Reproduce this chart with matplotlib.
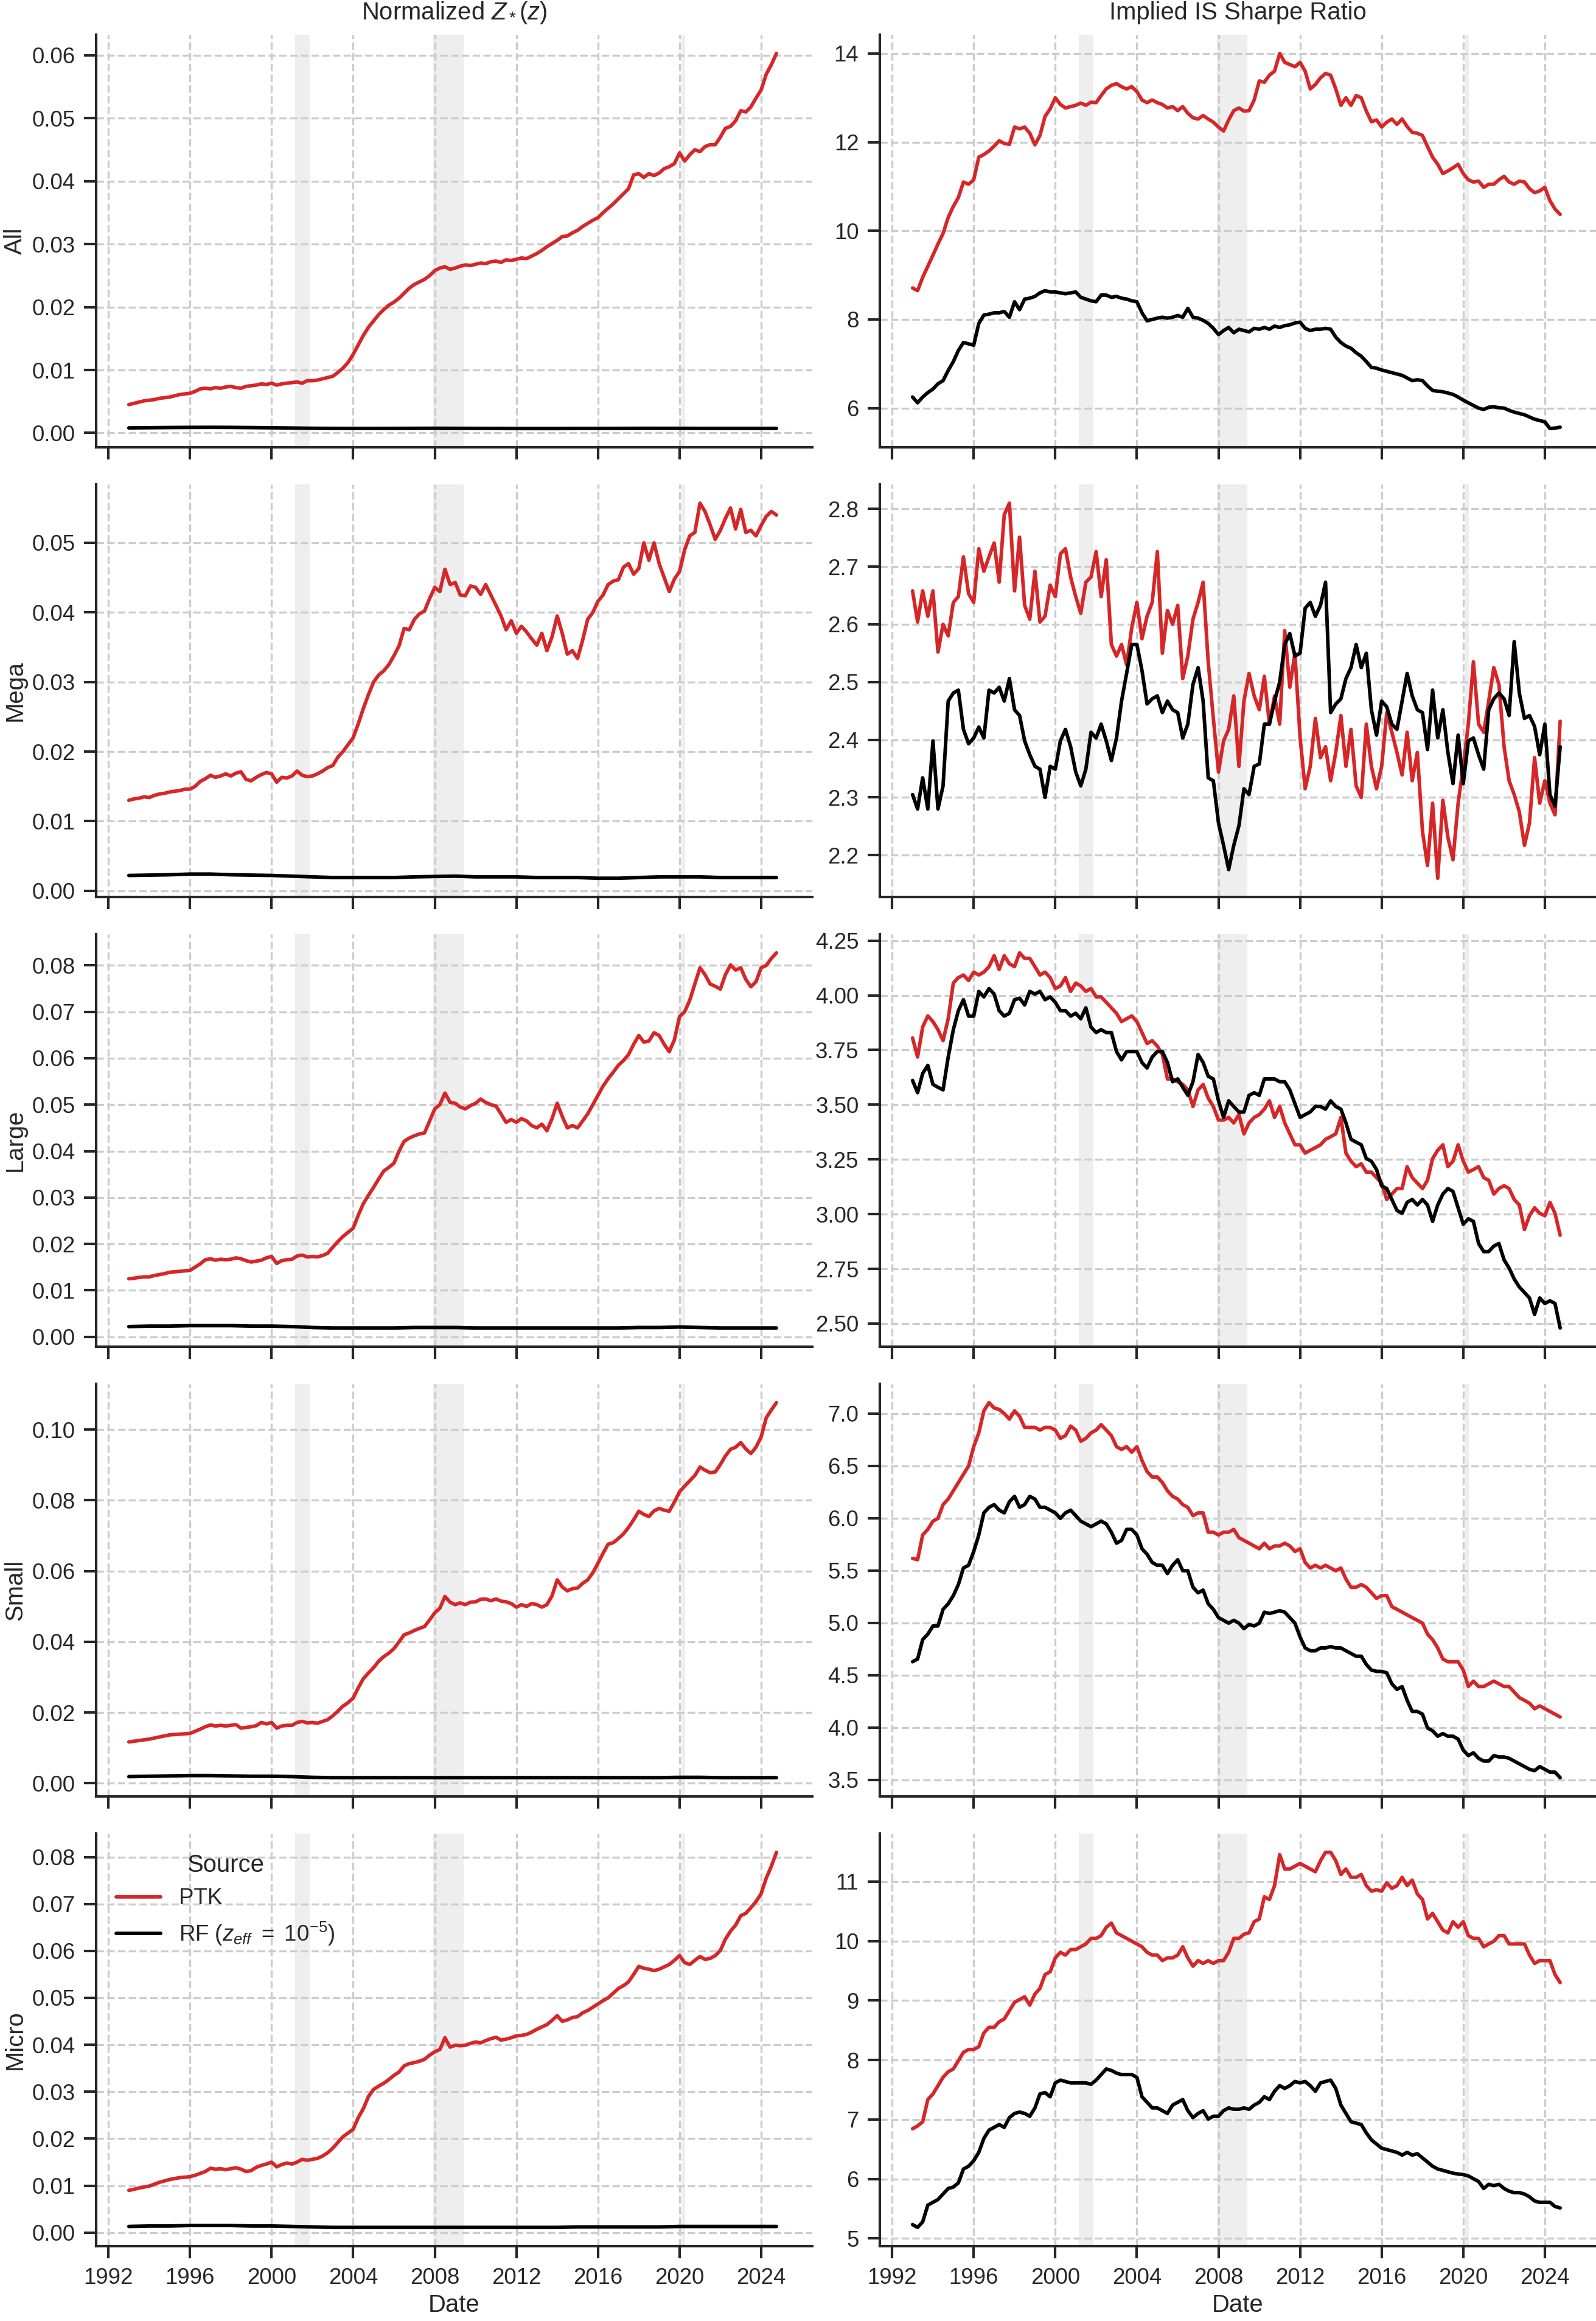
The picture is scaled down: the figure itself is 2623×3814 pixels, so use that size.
import matplotlib
matplotlib.use("Agg")
import matplotlib.pyplot as plt
import matplotlib.dates as mdates
from matplotlib.ticker import MultipleLocator
import seaborn as sns
import pandas as pd
from datetime import datetime

# quarterly sample dates (Jan, Apr, Jul, Oct), 1993 - 2024
dates_q = pd.date_range("1993-01-01", periods=128, freq="QS")
# yearly sample for the flat RF curves in the left column (+ last quarter)
rf_dates = list(dates_q[::4]) + [dates_q[-1]]

segments = ["All", "Mega", "Large", "Small", "Micro"]
col_titles = ["Normalized $Z_*(z)$", "Implied IS Sharpe Ratio"]
recessions = [("2001-03-01", "2001-11-15"), ("2007-12-01", "2009-06-01"), ("2020-02-01", "2020-04-15")]

# ---- Normalized Z*(z), PTK (quarterly) ----
z_ptk_all = [
    0.0045, 0.0047, 0.0049, 0.0051, 0.0052, 0.0053, 0.0055, 0.0056,
    0.0057, 0.0059, 0.0061, 0.0062, 0.0063, 0.0066, 0.0070, 0.0071,
    0.0070, 0.0072, 0.0071, 0.0073, 0.0074, 0.0072, 0.0071, 0.0074,
    0.0075, 0.0076, 0.0078, 0.0077, 0.0079, 0.0076, 0.0078, 0.0079,
    0.0080, 0.0081, 0.0079, 0.0083, 0.0083, 0.0084, 0.0086, 0.0088,
    0.0090, 0.0096, 0.0103, 0.0112, 0.0125, 0.0140, 0.0155, 0.0168,
    0.0178, 0.0188, 0.0196, 0.0203, 0.0208, 0.0214, 0.0222, 0.0230,
    0.0236, 0.0240, 0.0244, 0.0250, 0.0258, 0.0262, 0.0264, 0.0260,
    0.0262, 0.0265, 0.0267, 0.0266, 0.0268, 0.0270, 0.0269, 0.0272,
    0.0273, 0.0271, 0.0275, 0.0274, 0.0276, 0.0278, 0.0277, 0.0281,
    0.0285, 0.0290, 0.0296, 0.0301, 0.0306, 0.0312, 0.0313, 0.0318,
    0.0322, 0.0328, 0.0333, 0.0338, 0.0342, 0.0350, 0.0357, 0.0364,
    0.0372, 0.0380, 0.0388, 0.0410, 0.0412, 0.0406, 0.0412, 0.0409,
    0.0413, 0.0420, 0.0423, 0.0428, 0.0445, 0.0432, 0.0442, 0.0450,
    0.0447, 0.0455, 0.0458, 0.0458, 0.0470, 0.0484, 0.0487, 0.0496,
    0.0512, 0.0510, 0.0518, 0.0532, 0.0545, 0.0570, 0.0585, 0.0603,
]
z_ptk_mega = [
    0.0130, 0.0132, 0.0133, 0.0135, 0.0134, 0.0137, 0.0139, 0.0140,
    0.0142, 0.0143, 0.0144, 0.0146, 0.0146, 0.0150, 0.0157, 0.0161,
    0.0166, 0.0163, 0.0165, 0.0168, 0.0165, 0.0169, 0.0171, 0.0160,
    0.0158, 0.0163, 0.0167, 0.0170, 0.0168, 0.0156, 0.0163, 0.0162,
    0.0165, 0.0172, 0.0166, 0.0164, 0.0165, 0.0168, 0.0172, 0.0177,
    0.0180, 0.0192, 0.0200, 0.0210, 0.0220, 0.0240, 0.0262, 0.0282,
    0.0300, 0.0310, 0.0316, 0.0325, 0.0338, 0.0352, 0.0377, 0.0375,
    0.0390, 0.0398, 0.0402, 0.0420, 0.0436, 0.0430, 0.0462, 0.0440,
    0.0443, 0.0425, 0.0424, 0.0438, 0.0436, 0.0426, 0.0440, 0.0425,
    0.0410, 0.0395, 0.0375, 0.0388, 0.0370, 0.0380, 0.0372, 0.0362,
    0.0353, 0.0370, 0.0345, 0.0365, 0.0395, 0.0370, 0.0340, 0.0345,
    0.0334, 0.0360, 0.0390, 0.0400, 0.0416, 0.0425, 0.0440, 0.0445,
    0.0447, 0.0465, 0.0470, 0.0455, 0.0463, 0.0500, 0.0475, 0.0500,
    0.0470, 0.0450, 0.0430, 0.0448, 0.0459, 0.0490, 0.0510, 0.0515,
    0.0557, 0.0545, 0.0526, 0.0505, 0.0518, 0.0535, 0.0550, 0.0520,
    0.0548, 0.0515, 0.0518, 0.0510, 0.0525, 0.0538, 0.0545, 0.0540,
]
z_ptk_large = [
    0.0125, 0.0126, 0.0128, 0.0129, 0.0129, 0.0132, 0.0134, 0.0136,
    0.0139, 0.0140, 0.0141, 0.0142, 0.0143, 0.0150, 0.0157, 0.0166,
    0.0168, 0.0165, 0.0167, 0.0166, 0.0167, 0.0170, 0.0168, 0.0164,
    0.0161, 0.0163, 0.0165, 0.0170, 0.0173, 0.0158, 0.0164, 0.0166,
    0.0167, 0.0174, 0.0176, 0.0172, 0.0173, 0.0172, 0.0175, 0.0180,
    0.0193, 0.0205, 0.0216, 0.0225, 0.0234, 0.0262, 0.0287, 0.0305,
    0.0322, 0.0340, 0.0357, 0.0365, 0.0374, 0.0400, 0.0421, 0.0428,
    0.0433, 0.0437, 0.0439, 0.0465, 0.0491, 0.0500, 0.0525, 0.0505,
    0.0503, 0.0495, 0.0491, 0.0498, 0.0503, 0.0512, 0.0505, 0.0500,
    0.0497, 0.0480, 0.0462, 0.0468, 0.0462, 0.0470, 0.0465, 0.0455,
    0.0450, 0.0458, 0.0444, 0.0470, 0.0503, 0.0475, 0.0450, 0.0455,
    0.0450, 0.0465, 0.0480, 0.0500, 0.0520, 0.0540, 0.0556, 0.0570,
    0.0585, 0.0595, 0.0608, 0.0630, 0.0649, 0.0635, 0.0637, 0.0655,
    0.0649, 0.0630, 0.0614, 0.0640, 0.0690, 0.0700, 0.0725, 0.0760,
    0.0795, 0.0780, 0.0760, 0.0755, 0.0749, 0.0780, 0.0801, 0.0790,
    0.0795, 0.0770, 0.0754, 0.0765, 0.0795, 0.0800, 0.0815, 0.0827,
]
z_ptk_small = [
    0.0117, 0.0119, 0.0121, 0.0123, 0.0125, 0.0128, 0.0131, 0.0134,
    0.0137, 0.0138, 0.0139, 0.0140, 0.0141, 0.0147, 0.0153, 0.0160,
    0.0165, 0.0162, 0.0164, 0.0162, 0.0164, 0.0166, 0.0156, 0.0158,
    0.0160, 0.0163, 0.0172, 0.0168, 0.0172, 0.0156, 0.0162, 0.0164,
    0.0164, 0.0172, 0.0175, 0.0171, 0.0172, 0.0170, 0.0175, 0.0180,
    0.0191, 0.0204, 0.0218, 0.0228, 0.0241, 0.0270, 0.0296, 0.0312,
    0.0327, 0.0345, 0.0358, 0.0368, 0.0381, 0.0400, 0.0420, 0.0425,
    0.0432, 0.0438, 0.0443, 0.0462, 0.0482, 0.0495, 0.0528, 0.0512,
    0.0505, 0.0510, 0.0505, 0.0512, 0.0513, 0.0520, 0.0521, 0.0516,
    0.0521, 0.0515, 0.0513, 0.0508, 0.0498, 0.0505, 0.0500, 0.0508,
    0.0505, 0.0498, 0.0505, 0.0530, 0.0575, 0.0555, 0.0544, 0.0550,
    0.0552, 0.0565, 0.0575, 0.0595, 0.0622, 0.0650, 0.0676, 0.0680,
    0.0692, 0.0705, 0.0723, 0.0745, 0.0769, 0.0760, 0.0754, 0.0770,
    0.0777, 0.0772, 0.0769, 0.0795, 0.0824, 0.0840, 0.0855, 0.0870,
    0.0894, 0.0885, 0.0878, 0.0880, 0.0901, 0.0925, 0.0944, 0.0950,
    0.0963, 0.0945, 0.0932, 0.0950, 0.0979, 0.1033, 0.1055, 0.1076,
]
z_ptk_micro = [
    0.0090, 0.0092, 0.0095, 0.0097, 0.0099, 0.0103, 0.0107, 0.0110,
    0.0113, 0.0115, 0.0117, 0.0118, 0.0119, 0.0122, 0.0126, 0.0130,
    0.0137, 0.0135, 0.0136, 0.0134, 0.0136, 0.0138, 0.0135, 0.0130,
    0.0132, 0.0139, 0.0143, 0.0146, 0.0150, 0.0140, 0.0145, 0.0148,
    0.0146, 0.0150, 0.0156, 0.0154, 0.0156, 0.0158, 0.0163, 0.0170,
    0.0180, 0.0192, 0.0204, 0.0212, 0.0220, 0.0245, 0.0264, 0.0290,
    0.0305, 0.0312, 0.0318, 0.0326, 0.0335, 0.0342, 0.0355, 0.0360,
    0.0362, 0.0365, 0.0369, 0.0378, 0.0385, 0.0390, 0.0415, 0.0395,
    0.0399, 0.0398, 0.0399, 0.0403, 0.0406, 0.0404, 0.0409, 0.0413,
    0.0416, 0.0410, 0.0412, 0.0415, 0.0419, 0.0420, 0.0422, 0.0427,
    0.0433, 0.0438, 0.0443, 0.0452, 0.0462, 0.0450, 0.0453, 0.0458,
    0.0460, 0.0468, 0.0473, 0.0480, 0.0487, 0.0494, 0.0500, 0.0510,
    0.0520, 0.0526, 0.0534, 0.0550, 0.0567, 0.0563, 0.0561, 0.0558,
    0.0561, 0.0566, 0.0571, 0.0580, 0.0590, 0.0575, 0.0571, 0.0580,
    0.0588, 0.0582, 0.0584, 0.0590, 0.0601, 0.0625, 0.0642, 0.0655,
    0.0675, 0.0680, 0.0692, 0.0705, 0.0722, 0.0755, 0.0780, 0.0810,
]

# ---- Normalized Z*(z), RF (yearly) ----
z_rf_all = [0.00080, 0.00083, 0.00086, 0.00088, 0.00089, 0.00088, 0.00085, 0.00082,
            0.00078, 0.00074, 0.00072, 0.00071, 0.00071, 0.00072, 0.00073, 0.00074,
            0.00073, 0.00072, 0.00071, 0.00070, 0.00070, 0.00070, 0.00071, 0.00071,
            0.00072, 0.00073, 0.00073, 0.00073, 0.00072, 0.00072, 0.00072, 0.00072, 0.00072]
z_rf_mega = [0.0022, 0.00225, 0.0023, 0.0024, 0.0024, 0.0023, 0.00225, 0.0022,
             0.0021, 0.0020, 0.0019, 0.0019, 0.0019, 0.0019, 0.0020, 0.00205,
             0.0021, 0.0020, 0.0020, 0.0020, 0.0019, 0.0019, 0.0019, 0.0018,
             0.0018, 0.0019, 0.0020, 0.0020, 0.0020, 0.0019, 0.0019, 0.0019, 0.0019]
z_rf_large = [0.0022, 0.0023, 0.0023, 0.0024, 0.0024, 0.0024, 0.0023, 0.0023,
              0.0022, 0.0020, 0.0019, 0.0019, 0.0019, 0.0019, 0.0020, 0.0020,
              0.0020, 0.0019, 0.0019, 0.0019, 0.0019, 0.0019, 0.0019, 0.0019,
              0.0019, 0.0020, 0.0020, 0.0021, 0.0020, 0.0019, 0.0019, 0.0019, 0.0019]
z_rf_small = [0.0019, 0.0020, 0.0021, 0.0022, 0.0022, 0.0021, 0.0020, 0.0020,
              0.0019, 0.0017, 0.0016, 0.0016, 0.0016, 0.0016, 0.0016, 0.0016,
              0.0016, 0.0016, 0.0016, 0.0016, 0.0016, 0.0016, 0.0016, 0.0016,
              0.0016, 0.0016, 0.0016, 0.0017, 0.0017, 0.0016, 0.0016, 0.0016, 0.0016]
z_rf_micro = [0.0013, 0.0014, 0.0014, 0.0015, 0.0015, 0.0015, 0.0014, 0.0014,
              0.0013, 0.0012, 0.0011, 0.0011, 0.0011, 0.0011, 0.0011, 0.0011,
              0.0011, 0.0011, 0.0011, 0.0011, 0.0011, 0.0011, 0.0012, 0.0012,
              0.0012, 0.0012, 0.0012, 0.0013, 0.0013, 0.0013, 0.0013, 0.0013, 0.0013]

# ---- Implied IS Sharpe ratio, PTK (quarterly) ----
sr_ptk_all = [
    8.71, 8.65, 8.95, 9.20, 9.45, 9.70, 9.94, 10.30,
    10.55, 10.75, 11.10, 11.05, 11.15, 11.66, 11.72, 11.80,
    11.91, 12.03, 11.97, 11.95, 12.34, 12.30, 12.34, 12.20,
    11.94, 12.15, 12.58, 12.75, 13.00, 12.85, 12.77, 12.80,
    12.83, 12.88, 12.83, 12.90, 12.89, 13.05, 13.20, 13.28,
    13.32, 13.25, 13.20, 13.25, 13.14, 12.95, 12.89, 12.95,
    12.89, 12.85, 12.77, 12.80, 12.71, 12.80, 12.65, 12.55,
    12.52, 12.60, 12.52, 12.45, 12.34, 12.25, 12.50, 12.71,
    12.77, 12.70, 12.71, 12.95, 13.38, 13.35, 13.51, 13.60,
    14.00, 13.80, 13.75, 13.70, 13.80, 13.60, 13.20, 13.30,
    13.45, 13.55, 13.51, 13.20, 12.83, 13.00, 12.83, 13.05,
    13.00, 12.70, 12.46, 12.50, 12.34, 12.45, 12.52, 12.40,
    12.52, 12.35, 12.22, 12.20, 12.15, 11.90, 11.66, 11.50,
    11.29, 11.35, 11.42, 11.50, 11.29, 11.15, 11.10, 11.12,
    10.98, 11.05, 11.05, 11.15, 11.23, 11.10, 11.05, 11.12,
    11.10, 10.95, 10.86, 10.90, 10.98, 10.68, 10.49, 10.37,
]
sr_ptk_mega = [
    2.658, 2.604, 2.658, 2.614, 2.658, 2.552, 2.600, 2.580,
    2.638, 2.648, 2.717, 2.653, 2.638, 2.731, 2.692, 2.717,
    2.741, 2.673, 2.790, 2.810, 2.658, 2.751, 2.633, 2.609,
    2.692, 2.604, 2.614, 2.668, 2.648, 2.722, 2.731, 2.682,
    2.648, 2.619, 2.673, 2.682, 2.726, 2.648, 2.712, 2.565,
    2.545, 2.565, 2.530, 2.594, 2.638, 2.575, 2.614, 2.638,
    2.726, 2.550, 2.624, 2.600, 2.633, 2.506, 2.545, 2.609,
    2.638, 2.673, 2.535, 2.437, 2.344, 2.398, 2.418, 2.476,
    2.354, 2.467, 2.515, 2.476, 2.452, 2.510, 2.427, 2.476,
    2.427, 2.589, 2.491, 2.550, 2.404, 2.315, 2.354, 2.437,
    2.369, 2.388, 2.329, 2.378, 2.442, 2.354, 2.418, 2.320,
    2.300, 2.427, 2.354, 2.315, 2.354, 2.447, 2.413, 2.378,
    2.339, 2.413, 2.329, 2.378, 2.241, 2.182, 2.290, 2.160,
    2.295, 2.231, 2.192, 2.290, 2.354, 2.427, 2.535, 2.427,
    2.413, 2.467, 2.525, 2.496, 2.388, 2.329, 2.305, 2.275,
    2.217, 2.256, 2.369, 2.290, 2.329, 2.290, 2.270, 2.432,
]
sr_ptk_large = [
    3.805, 3.718, 3.855, 3.906, 3.880, 3.843, 3.793, 3.893,
    4.056, 4.081, 4.093, 4.068, 4.106, 4.093, 4.106, 4.131,
    4.181, 4.118, 4.181, 4.144, 4.131, 4.194, 4.169, 4.169,
    4.131, 4.093, 4.106, 4.081, 4.031, 4.043, 4.081, 4.018,
    4.056, 4.043, 4.018, 4.031, 3.993, 3.993, 3.968, 3.943,
    3.918, 3.880, 3.893, 3.906, 3.880, 3.830, 3.780, 3.793,
    3.768, 3.730, 3.618, 3.618, 3.605, 3.593, 3.568, 3.492,
    3.568, 3.593, 3.530, 3.492, 3.430, 3.430, 3.442, 3.417,
    3.455, 3.367, 3.417, 3.442, 3.455, 3.480, 3.518, 3.442,
    3.492, 3.417, 3.367, 3.317, 3.317, 3.279, 3.292, 3.304,
    3.317, 3.342, 3.354, 3.367, 3.442, 3.279, 3.242, 3.217,
    3.230, 3.192, 3.192, 3.167, 3.142, 3.067, 3.092, 3.117,
    3.117, 3.217, 3.167, 3.142, 3.117, 3.155, 3.254, 3.292,
    3.317, 3.217, 3.242, 3.317, 3.242, 3.192, 3.204, 3.217,
    3.167, 3.155, 3.092, 3.117, 3.130, 3.117, 3.067, 3.042,
    2.930, 2.993, 3.029, 3.004, 2.993, 3.054, 3.004, 2.904,
]
sr_ptk_small = [
    5.616, 5.603, 5.840, 5.893, 5.972, 5.998, 6.130, 6.183,
    6.262, 6.341, 6.420, 6.499, 6.684, 6.816, 7.026, 7.105,
    7.053, 7.040, 7.000, 6.947, 7.026, 6.974, 6.868, 6.868,
    6.868, 6.842, 6.868, 6.868, 6.842, 6.763, 6.789, 6.881,
    6.842, 6.736, 6.763, 6.816, 6.842, 6.895, 6.842, 6.789,
    6.684, 6.657, 6.684, 6.631, 6.684, 6.552, 6.446, 6.394,
    6.394, 6.341, 6.262, 6.209, 6.183, 6.130, 6.104, 6.025,
    6.051, 6.051, 5.866, 5.866, 5.840, 5.866, 5.866, 5.893,
    5.814, 5.788, 5.761, 5.735, 5.708, 5.761, 5.708, 5.735,
    5.735, 5.761, 5.735, 5.682, 5.708, 5.577, 5.524, 5.550,
    5.524, 5.550, 5.524, 5.498, 5.524, 5.419, 5.340, 5.340,
    5.366, 5.340, 5.287, 5.234, 5.260, 5.260, 5.155, 5.129,
    5.102, 5.076, 5.050, 5.024, 4.997, 4.892, 4.839, 4.760,
    4.654, 4.628, 4.628, 4.628, 4.549, 4.391, 4.443, 4.391,
    4.391, 4.417, 4.443, 4.417, 4.391, 4.391, 4.338, 4.285,
    4.259, 4.232, 4.179, 4.206, 4.179, 4.153, 4.127, 4.100,
]
sr_ptk_micro = [
    6.845, 6.892, 6.962, 7.335, 7.429, 7.569, 7.709, 7.802,
    7.849, 7.989, 8.129, 8.176, 8.176, 8.222, 8.456, 8.549,
    8.549, 8.642, 8.689, 8.829, 8.969, 9.016, 9.063, 8.922,
    9.109, 9.203, 9.436, 9.483, 9.716, 9.810, 9.763, 9.856,
    9.856, 9.903, 9.950, 10.043, 10.043, 10.090, 10.230, 10.300,
    10.136, 10.090, 10.043, 9.996, 9.950, 9.903, 9.810, 9.763,
    9.763, 9.670, 9.716, 9.716, 9.763, 9.903, 9.716, 9.576,
    9.670, 9.623, 9.670, 9.623, 9.670, 9.670, 9.810, 10.043,
    10.043, 10.114, 10.137, 10.323, 10.370, 10.743, 10.697, 10.930,
    11.450, 11.210, 11.210, 11.257, 11.303, 11.257, 11.210, 11.163,
    11.350, 11.490, 11.490, 11.350, 11.117, 11.210, 11.070, 11.070,
    11.117, 10.930, 10.837, 10.860, 10.837, 10.977, 10.883, 10.930,
    11.070, 10.930, 11.023, 10.790, 10.697, 10.370, 10.463, 10.323,
    10.183, 10.136, 10.323, 10.230, 10.323, 10.090, 10.043, 10.043,
    9.903, 9.950, 9.996, 10.090, 10.090, 9.950, 9.950, 9.950,
    9.950, 9.763, 9.623, 9.670, 9.670, 9.670, 9.436, 9.300,
]

# ---- Implied IS Sharpe ratio, RF (quarterly) ----
sr_rf_all = [
    6.25, 6.12, 6.25, 6.35, 6.43, 6.55, 6.62, 6.85,
    7.05, 7.30, 7.48, 7.45, 7.42, 7.91, 8.10, 8.12,
    8.15, 8.15, 8.18, 8.05, 8.40, 8.22, 8.46, 8.48,
    8.52, 8.60, 8.65, 8.62, 8.62, 8.60, 8.58, 8.60,
    8.62, 8.50, 8.46, 8.42, 8.40, 8.55, 8.55, 8.50,
    8.52, 8.48, 8.46, 8.42, 8.40, 8.15, 7.97, 8.00,
    8.03, 8.05, 8.03, 8.05, 8.09, 8.05, 8.25, 8.05,
    8.03, 7.98, 7.91, 7.80, 7.66, 7.75, 7.82, 7.70,
    7.78, 7.75, 7.72, 7.80, 7.78, 7.82, 7.78, 7.85,
    7.82, 7.86, 7.88, 7.92, 7.94, 7.80, 7.75, 7.78,
    7.78, 7.80, 7.78, 7.60, 7.48, 7.40, 7.35, 7.25,
    7.17, 7.05, 6.92, 6.90, 6.86, 6.83, 6.80, 6.77,
    6.74, 6.68, 6.62, 6.64, 6.62, 6.50, 6.40, 6.38,
    6.37, 6.34, 6.31, 6.25, 6.18, 6.12, 6.06, 6.00,
    5.97, 6.02, 6.03, 6.01, 6.00, 5.95, 5.91, 5.88,
    5.85, 5.80, 5.75, 5.72, 5.69, 5.54, 5.55, 5.57,
]
sr_rf_mega = [
    2.305, 2.280, 2.334, 2.280, 2.398, 2.280, 2.320, 2.467,
    2.481, 2.486, 2.418, 2.393, 2.403, 2.422, 2.403, 2.486,
    2.481, 2.491, 2.467, 2.506, 2.452, 2.442, 2.398, 2.374,
    2.354, 2.349, 2.300, 2.354, 2.349, 2.398, 2.418, 2.388,
    2.344, 2.320, 2.349, 2.413, 2.403, 2.427, 2.398, 2.364,
    2.403, 2.467, 2.515, 2.565, 2.565, 2.520, 2.462, 2.471,
    2.476, 2.447, 2.467, 2.452, 2.447, 2.403, 2.427, 2.496,
    2.525, 2.467, 2.334, 2.329, 2.256, 2.217, 2.175, 2.217,
    2.251, 2.315, 2.305, 2.354, 2.358, 2.427, 2.427, 2.467,
    2.500, 2.565, 2.584, 2.545, 2.550, 2.628, 2.638, 2.614,
    2.633, 2.673, 2.447, 2.462, 2.471, 2.506, 2.525, 2.565,
    2.525, 2.550, 2.452, 2.408, 2.467, 2.457, 2.427, 2.418,
    2.467, 2.515, 2.476, 2.452, 2.447, 2.383, 2.486, 2.403,
    2.452, 2.378, 2.324, 2.408, 2.324, 2.398, 2.403, 2.374,
    2.349, 2.452, 2.471, 2.481, 2.471, 2.442, 2.570, 2.481,
    2.437, 2.442, 2.423, 2.374, 2.427, 2.305, 2.285, 2.388,
]
sr_rf_large = [
    3.611, 3.555, 3.643, 3.680, 3.593, 3.580, 3.568, 3.718,
    3.843, 3.930, 3.980, 3.905, 3.905, 4.018, 3.993, 4.031,
    4.006, 3.930, 3.905, 3.918, 3.980, 3.987, 3.956, 4.018,
    4.006, 4.018, 3.980, 3.993, 3.968, 3.930, 3.930, 3.905,
    3.918, 3.893, 3.943, 3.855, 3.830, 3.843, 3.830, 3.830,
    3.743, 3.705, 3.743, 3.743, 3.743, 3.693, 3.668, 3.718,
    3.743, 3.743, 3.693, 3.605, 3.618, 3.580, 3.543, 3.605,
    3.730, 3.693, 3.630, 3.618, 3.518, 3.442, 3.518, 3.492,
    3.467, 3.467, 3.543, 3.555, 3.543, 3.618, 3.618, 3.618,
    3.605, 3.605, 3.568, 3.505, 3.442, 3.455, 3.467, 3.492,
    3.492, 3.480, 3.518, 3.492, 3.480, 3.417, 3.342, 3.329,
    3.317, 3.254, 3.242, 3.204, 3.129, 3.117, 3.067, 3.017,
    3.004, 3.054, 3.067, 3.042, 3.067, 3.042, 2.967, 3.042,
    3.092, 3.117, 3.104, 3.029, 2.954, 2.979, 2.967, 2.866,
    2.829, 2.829, 2.854, 2.866, 2.791, 2.754, 2.704, 2.667,
    2.642, 2.617, 2.542, 2.617, 2.592, 2.604, 2.592, 2.480,
]
sr_rf_small = [
    4.628, 4.654, 4.839, 4.892, 4.970, 4.970, 5.129, 5.182,
    5.260, 5.366, 5.524, 5.550, 5.682, 5.840, 6.051, 6.104,
    6.130, 6.077, 6.051, 6.157, 6.209, 6.104, 6.130, 6.209,
    6.183, 6.104, 6.104, 6.077, 6.051, 5.998, 6.051, 6.077,
    6.025, 5.972, 5.946, 5.919, 5.946, 5.972, 5.946, 5.866,
    5.761, 5.788, 5.893, 5.893, 5.840, 5.708, 5.656, 5.577,
    5.550, 5.550, 5.471, 5.550, 5.603, 5.498, 5.498, 5.340,
    5.287, 5.313, 5.182, 5.129, 5.050, 5.024, 4.997, 5.024,
    4.997, 4.944, 4.984, 4.970, 4.997, 5.102, 5.089, 5.102,
    5.116, 5.102, 5.050, 4.997, 4.865, 4.760, 4.733, 4.733,
    4.760, 4.760, 4.773, 4.760, 4.760, 4.733, 4.707, 4.681,
    4.681, 4.602, 4.549, 4.536, 4.536, 4.522, 4.417, 4.364,
    4.391, 4.259, 4.153, 4.153, 4.127, 3.995, 3.968, 3.916,
    3.942, 3.916, 3.916, 3.889, 3.784, 3.731, 3.758, 3.705,
    3.679, 3.679, 3.731, 3.718, 3.718, 3.705, 3.679, 3.652,
    3.626, 3.600, 3.587, 3.626, 3.600, 3.573, 3.573, 3.520,
]
sr_rf_micro = [
    5.234, 5.187, 5.280, 5.561, 5.608, 5.655, 5.748, 5.841,
    5.865, 5.935, 6.168, 6.215, 6.308, 6.448, 6.682, 6.822,
    6.868, 6.915, 6.868, 7.032, 7.102, 7.125, 7.102, 7.055,
    7.195, 7.429, 7.452, 7.382, 7.615, 7.662, 7.639, 7.615,
    7.615, 7.615, 7.615, 7.592, 7.662, 7.755, 7.849, 7.825,
    7.779, 7.755, 7.755, 7.755, 7.709, 7.382, 7.289, 7.195,
    7.195, 7.148, 7.102, 7.242, 7.289, 7.335, 7.148, 7.032,
    7.102, 7.148, 7.008, 7.055, 7.055, 7.148, 7.195, 7.172,
    7.172, 7.195, 7.172, 7.242, 7.289, 7.382, 7.335, 7.475,
    7.569, 7.522, 7.569, 7.639, 7.615, 7.639, 7.569, 7.475,
    7.615, 7.639, 7.662, 7.522, 7.242, 7.102, 6.962, 6.938,
    6.915, 6.775, 6.658, 6.588, 6.518, 6.495, 6.471, 6.448,
    6.402, 6.448, 6.402, 6.425, 6.355, 6.285, 6.215, 6.168,
    6.145, 6.121, 6.098, 6.084, 6.075, 6.051, 6.005, 5.958,
    5.841, 5.911, 5.888, 5.911, 5.841, 5.795, 5.771, 5.771,
    5.748, 5.701, 5.631, 5.608, 5.608, 5.608, 5.538, 5.514,
]

z_ptk = [z_ptk_all, z_ptk_mega, z_ptk_large, z_ptk_small, z_ptk_micro]
z_rf = [z_rf_all, z_rf_mega, z_rf_large, z_rf_small, z_rf_micro]
sr_ptk = [sr_ptk_all, sr_ptk_mega, sr_ptk_large, sr_ptk_small, sr_ptk_micro]
sr_rf = [sr_rf_all, sr_rf_mega, sr_rf_large, sr_rf_small, sr_rf_micro]

z_steps = [0.01, 0.01, 0.01, 0.02, 0.01]
sr_steps = [2, 0.1, 0.25, 0.5, 1]

RED = "#d62728"
rf_label = r"RF ($z_{eff}\ =\ 10^{-5}$)"

sns.set_theme(context="paper", style="ticks")
plt.rcParams["font.family"] = ["Liberation Sans", "DejaVu Sans"]
plt.rcParams["mathtext.fontset"] = "custom"
plt.rcParams["mathtext.rm"] = "Liberation Sans"
plt.rcParams["mathtext.it"] = "Liberation Sans:italic"

W, H = 2623, 3814
fig = plt.figure(figsize=(W / 300, H / 300), dpi=300)

ax_w = 1177 / W
ax_h = 678 / H
lefts = [158 / W, 1446 / W]
tops = [57, 796, 1535, 2274, 3013]

for r, seg in enumerate(segments):
    for c in range(2):
        ax = fig.add_axes([lefts[c], 1 - (tops[r] + 678) / H, ax_w, ax_h])
        for start, end in recessions:
            ax.axvspan(pd.Timestamp(start), pd.Timestamp(end), color="gray", alpha=0.13, lw=0, zorder=0)
        if c == 0:
            ax.plot(dates_q, z_ptk[r], color=RED, lw=1.4, label="PTK")
            ax.plot(rf_dates, z_rf[r], color="black", lw=1.4, label=rf_label)
            ax.yaxis.set_major_locator(MultipleLocator(z_steps[r]))
            ax.set_ylabel(seg, fontsize=9.6, labelpad=2)
        else:
            ax.plot(dates_q, sr_ptk[r], color=RED, lw=1.4, label="PTK")
            ax.plot(dates_q, sr_rf[r], color="black", lw=1.4, label=rf_label)
            ax.yaxis.set_major_locator(MultipleLocator(sr_steps[r]))
        ax.set_xlim(datetime(1991, 5, 26), datetime(2026, 7, 5))
        ax.xaxis.set_major_locator(mdates.YearLocator(4))
        ax.xaxis.set_major_formatter(mdates.DateFormatter("%Y"))
        ax.grid(True, ls="--", color="#cccccc", lw=0.8)
        ax.set_axisbelow(True)
        sns.despine(ax=ax)
        ax.tick_params(labelsize=8.8)
        if r == 0:
            ax.set_title(col_titles[c], fontsize=9.6)
        if r < 4:
            ax.tick_params(labelbottom=False)
        else:
            ax.set_xlabel("Date", fontsize=9.6, labelpad=2)
        if r == 4 and c == 0:
            ax.legend(title="Source", loc="upper left", frameon=False,
                      fontsize=8.8, title_fontsize=9.6)

fig.savefig("out.png", dpi=300)
